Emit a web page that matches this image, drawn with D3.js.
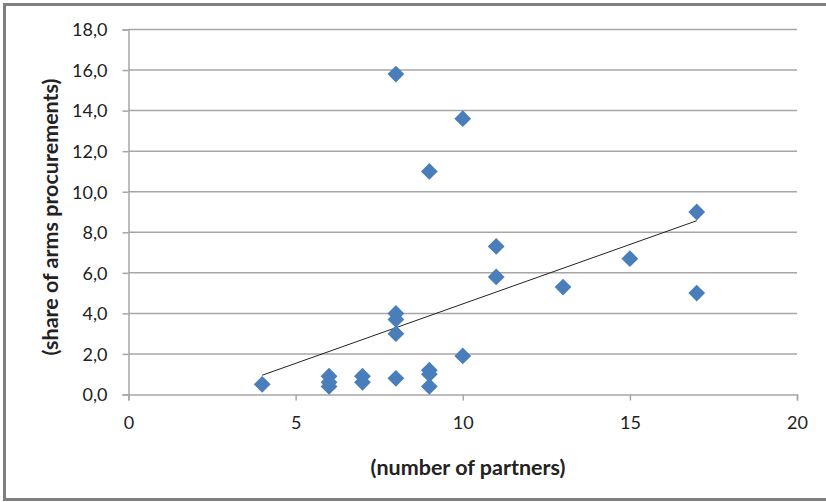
<!DOCTYPE html>
<html><head><meta charset="utf-8">
<script src="https://cdn.jsdelivr.net/npm/d3@7"></script>
<style>body{margin:0;background:#fff}svg{display:block}</style>
</head><body><svg id="c" width="826" height="502"></svg>
<script>
const partners = [4,6,6,6,7,7,8,8,8,8,8,9,9,9,9,10,10,11,11,13,15,17,17];
const shares   = [0.5,0.9,0.6,0.4,0.9,0.6,0.8,3.0,3.7,4.0,15.8,1.2,1.0,0.4,11.0,1.9,13.6,7.3,5.8,5.3,6.7,9.0,5.0];
const trendX = [4,17];
const trendY = [0.95,8.57];
const xTicks = [0,5,10,15,20];
const yTicks = [0,2,4,6,8,10,12,14,16,18];

const svg = d3.select('#c');
const font = 'Lato, "Open Sans", sans-serif';
svg.append('rect').attr('x',4.5).attr('y',4.5).attr('width',830).attr('height',495)
  .attr('fill','none').attr('stroke','#7f7f7f').attr('stroke-width',3);

const x = d3.scaleLinear().domain([0,20]).range([128.5,797]);
const y = d3.scaleLinear().domain([0,18]).range([394.5,29.5]);

// grid
svg.append('g').selectAll('line').data(yTicks.filter(d=>d>0)).join('line')
  .attr('x1',x(0)).attr('x2',x(20)).attr('y1',d=>y(d)).attr('y2',d=>y(d))
  .attr('stroke','#a6a6a6').attr('stroke-width',1.5);

const yAxis = svg.append('g').attr('transform',`translate(${x(0)},0)`)
  .call(d3.axisLeft(y).tickValues(yTicks).tickSize(6).tickPadding(15)
    .tickFormat(d=>d3.format('.1f')(d).replace('.',',')));
const xAxis = svg.append('g').attr('transform',`translate(0,${y(0)})`)
  .call(d3.axisBottom(x).tickValues(xTicks).tickSize(6).tickPadding(16));
[xAxis,yAxis].forEach(g=>{
  g.select('.domain').attr('stroke','#a6a6a6').attr('stroke-width',1.5);
  g.selectAll('.tick line').attr('stroke','#a6a6a6').attr('stroke-width',1.5);
  g.selectAll('text').attr('font-family',font).attr('font-size',18).attr('fill','#222');
});
yAxis.selectAll('.tick text').attr('dy','0.35em');

// trendline
svg.append('line').attr('x1',x(trendX[0])).attr('y1',y(trendY[0]))
  .attr('x2',x(trendX[1])).attr('y2',y(trendY[1]))
  .attr('stroke','#222').attr('stroke-width',1);

// points
const sym = d3.symbol().type(d3.symbolDiamond2).size(180);
svg.append('g').selectAll('path').data(partners.map((p,i)=>[p,shares[i]])).join('path')
  .attr('d',sym).attr('transform',d=>`translate(${x(d[0])},${y(d[1])})`)
  .attr('fill','#4a7ebb');

svg.append('text').attr('x',468).attr('y',475).attr('text-anchor','middle')
  .attr('font-family',font).attr('font-weight','bold').attr('font-size',21.5).attr('fill','#222')
  .text('(number of partners)');
svg.append('text').attr('transform','translate(58,217) rotate(-90)').attr('text-anchor','middle')
  .attr('font-family',font).attr('font-weight','bold').attr('font-size',21.5).attr('fill','#222')
  .text('(share of arms procurements)');
</script></body></html>
